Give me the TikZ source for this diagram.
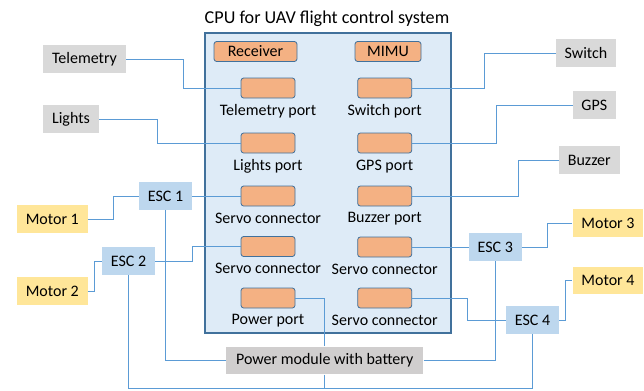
\documentclass[tikz,border=0pt]{standalone}
\usepackage{fontspec}
\setmainfont{Carlito}
\usetikzlibrary{positioning, calc}
\definecolor{CpuFill}{HTML}{DEEBF7}
\definecolor{CpuEdge}{HTML}{41719C}
\definecolor{PortFill}{HTML}{F4B183}
\definecolor{EscFill}{HTML}{BDD7EE}
\definecolor{MotorFill}{HTML}{FFE699}
\definecolor{DevFill}{HTML}{D9D9D9}
\definecolor{PwrFill}{HTML}{D0CECE}
\definecolor{WireBlue}{HTML}{5B9BD5}

\begin{document}
\begin{tikzpicture}[x=0.75pt, y=-0.75pt, every node/.style={font=\fontsize{12}{14}\selectfont}]
    \tikzstyle{cpubox} = [rectangle, draw=CpuEdge, fill=CpuFill, line width=0.8pt, minimum width=184.5pt, minimum height=225pt, inner sep=0pt]
    \tikzstyle{port} = [rectangle, draw=CpuEdge, fill=PortFill, line width=0.6pt, rounded corners=2pt, minimum width=40.5pt, minimum height=15pt, inner sep=0pt]
    \tikzstyle{portlabel} = [inner sep=0pt]
    \tikzstyle{device} = [rectangle, fill=DevFill, minimum height=20.7pt, inner sep=0pt]
    \tikzstyle{esc} = [rectangle, fill=EscFill, minimum width=39.5pt, minimum height=20.5pt, inner sep=0pt]
    \tikzstyle{motor} = [rectangle, fill=MotorFill, minimum width=53pt, minimum height=20.8pt, inner sep=0pt]
    \tikzstyle{wire} = [draw, WireBlue, line width=0.75pt]
    \useasboundingbox (0,0) rectangle (644,390);

    % flight controller
    \node [cpubox] (cpu) at (328,183) {};
    \node [font=\fontsize{13.6}{16}\selectfont] (title) at (327,18.5) {CPU for UAV flight control system};
    \node [port, minimum width=62.25pt] (rx) at (255.5,51.5) {Receiver};
    \node [port, minimum width=49.5pt] (imu) at (388,51.5) {MIMU};

    \node [port] (tp) at (268,88) {};
    \node [portlabel, below=4.5pt of tp] {Telemetry port};
    \node [port] (lp) at (268,143) {};
    \node [portlabel, below=4.5pt of lp] {Lights port};
    \node [port] (sc1) at (268,196) {};
    \node [portlabel, below=4.5pt of sc1] {Servo connector};
    \node [port] (sc2) at (268,246.5) {};
    \node [portlabel, below=4.5pt of sc2] {Servo connector};
    \node [port] (pp) at (268,298) {};
    \node [portlabel, below=4.5pt of pp] {Power port};

    \node [port] (swp) at (384.7,88) {};
    \node [portlabel, below=4.5pt of swp] {Switch port};
    \node [port] (gp) at (384.7,143) {};
    \node [portlabel, below=4.5pt of gp] {GPS port};
    \node [port] (bp) at (384.7,196) {};
    \node [portlabel, below=4.5pt of bp] {Buzzer port};
    \node [port] (sc3) at (384.7,247) {};
    \node [portlabel, below=4.5pt of sc3] {Servo connector};
    \node [port] (sc4) at (384.7,298) {};
    \node [portlabel, below=4.5pt of sc4] {Servo connector};

    % peripherals
    \node [device, minimum width=62.25pt] (tel) at (84.5,59) {Telemetry};
    \node [device, minimum width=42pt] (lights) at (71,119) {Lights};
    \node [device, minimum width=45pt] (switch) at (586,53) {Switch};
    \node [device, minimum width=32pt] (gps) at (594.3,105) {GPS};
    \node [device, minimum width=45.5pt] (buzzer) at (589.3,160) {Buzzer};
    \node [device, fill=PwrFill, minimum width=148pt] (power) at (324.7,360.5) {Power module with battery};

    \node [esc] (esc1) at (165.5,196) {ESC 1};
    \node [esc] (esc2) at (128.5,261) {ESC 2};
    \node [esc] (esc3) at (495.3,247) {ESC 3};
    \node [esc] (esc4) at (532.5,320) {ESC 4};

    \node [motor] (m1) at (52.3,219) {Motor 1};
    \node [motor] (m2) at (52.3,291) {Motor 2};
    \node [motor] (m3) at (608,223) {Motor 3};
    \node [motor] (m4) at (608,280.5) {Motor 4};

    % wiring
    \path [wire] (tel.east) -- ++(57,0) |- (tp.west);
    \path [wire] (lights.east) -- ++(58,0) |- (lp.west);
    \path [wire] (swp.east) -- ++(72.6,0) |- (switch.west);
    \path [wire] (gp.east) -- ++(84,0) |- (gps.west);
    \path [wire] (bp.east) -- ++(106.3,0) |- (buzzer.west);

    \path [wire] (m1.east) -- ++(25.3,0) |- (esc1.west);
    \path [wire] (esc1.east) -- (sc1.west);
    \path [wire] (m2.east) -- ++(7,0) |- (esc2.west);
    \path [wire] (esc2.east) -- ++(37.3,0) |- (sc2.west);
    \path [wire] (sc3.east) -- (esc3.west);
    \path [wire] (esc3.east) -- ++(26,0) |- (m3.west);
    \path [wire] (sc4.east) -- ++(55.6,0) |- (esc4.west);
    \path [wire] (esc4.east) -- ++(6.7,0) |- (m4.west);

    \path [wire] (esc1.south) |- (power.west);
    \path [wire] (power.east) -| (esc3.south);
    \path [wire] (pp.east) -| (power.north);
    \path [wire] (esc2.south) -- ++(0,114) coordinate (gnd) -| (esc4.south);
    \path [wire] (power.south) -- (power.south |- gnd);
\end{tikzpicture}
\end{document}
